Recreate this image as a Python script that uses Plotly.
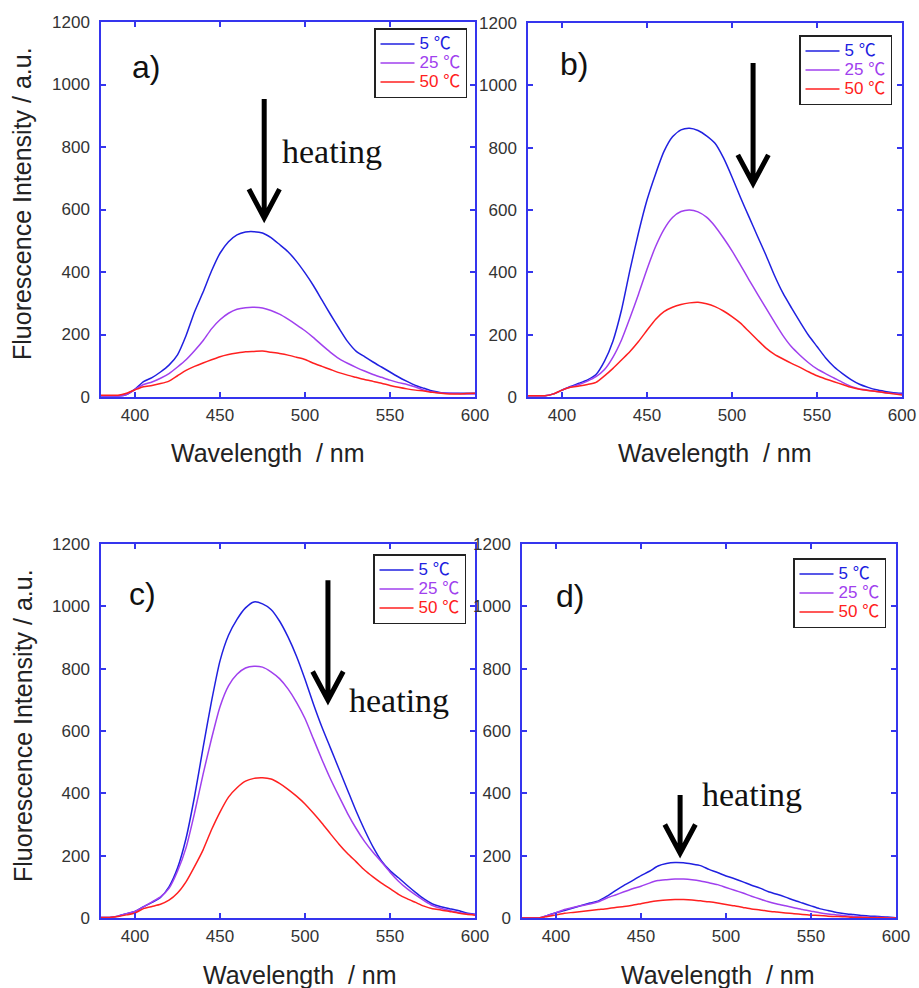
import plotly.graph_objects as go

wavelength = [380, 385, 390, 395, 400, 405, 410, 415, 420, 425, 430, 435, 440, 445, 450,
              455, 460, 465, 470, 475, 480, 485, 490, 495, 500, 505, 510, 515, 520, 525,
              530, 535, 540, 545, 550, 555, 560, 565, 570, 575, 580, 585, 590, 595, 600]

# Panel a)
a_5C = [3, 3, 3, 8, 25, 49, 62, 80, 102, 135, 196, 272, 335, 403, 460, 497, 519, 528, 529, 525,
        510, 488, 465, 434, 397, 356, 310, 264, 220, 178, 147, 129, 112, 96, 80, 64, 50, 37, 28,
        19, 14, 12, 12, 12, 12]
a_25C = [3, 3, 3, 8, 24, 40, 48, 60, 75, 96, 119, 148, 180, 218, 247, 268, 281, 286, 287, 285,
         277, 265, 249, 231, 212, 190, 166, 143, 123, 108, 95, 83, 72, 63, 54, 46, 40, 32, 22,
         16, 13, 12, 11, 10, 10]
a_50C = [6, 6, 6, 12, 23, 33, 37, 43, 51, 68, 85, 98, 109, 119, 129, 136, 141, 145, 146, 147,
         143, 139, 134, 127, 120, 108, 98, 88, 78, 70, 63, 56, 50, 44, 37, 31, 26, 22, 19, 15,
         12, 10, 10, 11, 12]

# Panel b)
b_5C = [4, 4, 4, 10, 22, 34, 44, 55, 72, 115, 180, 279, 408, 527, 632, 715, 788, 835, 857, 862,
        855, 838, 814, 767, 706, 640, 578, 516, 455, 390, 333, 286, 241, 198, 162, 126, 97, 75,
        56, 41, 31, 23, 18, 14, 12]
b_25C = [4, 4, 4, 10, 22, 32, 40, 51, 65, 88, 128, 183, 254, 330, 410, 482, 538, 576, 595, 600,
         594, 577, 548, 510, 469, 423, 376, 330, 285, 240, 197, 161, 134, 110, 90, 75, 61, 47,
         34, 26, 22, 18, 14, 11, 9]
b_50C = [4, 4, 4, 10, 22, 31, 35, 40, 47, 68, 92, 119, 146, 178, 214, 249, 274, 288, 297, 302,
         304, 299, 290, 276, 258, 237, 210, 183, 157, 137, 122, 108, 95, 81, 68, 58, 49, 40, 31,
         25, 21, 18, 14, 10, 6]

# Panel c)
c_5C = [2, 2, 6, 14, 21, 36, 50, 66, 100, 160, 255, 389, 545, 695, 825, 907, 958, 995, 1014,
        1008, 990, 953, 902, 840, 766, 686, 612, 545, 478, 411, 344, 283, 228, 183, 152, 129,
        105, 82, 61, 45, 36, 30, 24, 16, 12]
c_25C = [2, 2, 6, 14, 21, 36, 52, 68, 95, 150, 225, 336, 460, 575, 678, 745, 782, 802, 808, 805,
         790, 768, 735, 692, 640, 574, 508, 446, 390, 336, 288, 246, 211, 180, 147, 118, 94, 74,
         56, 40, 31, 24, 18, 14, 11]
c_50C = [2, 2, 5, 10, 16, 30, 37, 44, 57, 80, 116, 165, 218, 283, 340, 388, 418, 439, 448, 450,
         446, 432, 413, 391, 366, 336, 304, 270, 237, 207, 181, 154, 132, 112, 94, 76, 62, 50,
         38, 30, 26, 21, 16, 12, 9]

# Panel d)
d_5C = [0, 0, 0, 8, 17, 24, 32, 40, 48, 55, 70, 88, 105, 120, 136, 150, 167, 175, 178, 177, 173,
        168, 156, 146, 135, 126, 116, 105, 96, 84, 76, 67, 57, 48, 39, 30, 24, 18, 14, 11, 8, 6,
        5, 3, 1]
d_25C = [0, 0, 0, 8, 17, 27, 34, 40, 45, 52, 64, 74, 84, 94, 102, 112, 120, 123, 125, 125, 123,
         119, 113, 107, 98, 89, 80, 70, 61, 52, 45, 39, 33, 27, 22, 17, 13, 10, 7, 5, 3, 2, 2,
         1, 0]
d_50C = [0, 0, 0, 5, 10, 15, 18, 21, 24, 27, 30, 34, 37, 41, 46, 51, 55, 58, 59, 59, 58, 55, 52,
         48, 43, 39, 34, 29, 26, 22, 19, 16, 14, 11, 9, 8, 6, 5, 4, 2, 2, 1, 1, 0, 0]

panel_labels = ["a)", "b)", "c)", "d)"]
series_names = ["5 ℃", "25 ℃", "50 ℃"]
x_ticks = [400, 450, 500, 550, 600]
y_ticks = [0, 200, 400, 600, 800, 1000, 1200]

panels = [
    [a_5C, a_25C, a_50C],
    [b_5C, b_25C, b_50C],
    [c_5C, c_25C, c_50C],
    [d_5C, d_25C, d_50C],
]

colors = ["#2020e0", "#a040ee", "#ff2020"]
axis_blue = "#3535ee"
W, H = 919, 988

# plot area boxes in pixels (left, right, top, bottom)
boxes = [(101, 475, 22, 397), (528, 902, 23, 397), (101, 475, 544, 918), (522, 896, 544, 918)]

fig = go.Figure()
legend_ids = ["legend", "legend2", "legend3", "legend4"]
for p, series in enumerate(panels):
    ax = "" if p == 0 else str(p + 1)
    for s, vals in enumerate(series):
        fig.add_trace(go.Scatter(
            x=wavelength, y=vals, mode="lines",
            line=dict(color=colors[s], width=1.5, shape="spline", smoothing=0.6),
            name=f"<span style='color:{colors[s]};font-size:17px'>{series_names[s]}</span>",
            xaxis="x" + ax, yaxis="y" + ax,
            legend=legend_ids[p],
        ))

layout = dict(template="none", width=W, height=H, margin=dict(l=0, r=0, t=0, b=0, pad=0),
              paper_bgcolor="white", plot_bgcolor="white", showlegend=True, autosize=False)

tick_font = dict(family="Liberation Sans, Arial", size=17, color="#333333")
for p, (l, r, t, b) in enumerate(boxes):
    ax = "" if p == 0 else str(p + 1)
    layout["xaxis" + ax] = dict(
        domain=[l / W, r / W], range=[380, 600], anchor="y" + ax, automargin=False,
        tickvals=x_ticks, ticks="inside", ticklen=5, tickwidth=1.5, tickcolor=axis_blue,
        showline=True, linecolor=axis_blue, linewidth=1.5, mirror="ticks",
        showgrid=False, zeroline=False, tickfont=tick_font, ticklabelstandoff=2)
    layout["yaxis" + ax] = dict(
        domain=[1 - b / H, 1 - t / H], range=[0, 1200], anchor="x" + ax, automargin=False,
        tickvals=y_ticks, ticks="inside", ticklen=5, tickwidth=1.5, tickcolor=axis_blue,
        showline=True, linecolor=axis_blue, linewidth=1.5, mirror="ticks",
        showgrid=False, zeroline=False, tickfont=tick_font, ticklabelstandoff=6)

# legends (top right of each panel)
legend_boxes = [(467, 28), (892, 35), (466, 554), (886, 558)]
for p, (rx, ty) in enumerate(legend_boxes):
    layout[legend_ids[p]] = dict(
        x=rx / W, y=1 - ty / H, xanchor="right", yanchor="top",
        xref="paper", yref="paper",
        bordercolor="#222222", borderwidth=1.5, bgcolor="white",
        font=dict(family="Liberation Sans, Noto Sans CJK JP", size=12),
        tracegroupgap=0, itemwidth=34)

fig.update_layout(**layout)

annotations = []
# panel labels
label_pos = [(397, 1056), (397.6, 1069), (395, 1039), (399, 1033)]
for p, (lx, ly) in enumerate(label_pos):
    ax = "" if p == 0 else str(p + 1)
    annotations.append(dict(text=panel_labels[p], x=lx, y=ly, xref="x" + ax, yref="y" + ax,
                            xanchor="left", yanchor="middle", showarrow=False,
                            font=dict(family="Liberation Sans, Arial", size=32, color="#111111")))

# "heating" labels
heat_pos = {0: (485.3, 787), 2: (524.7, 699), 3: (484.7, 395)}
for p, (hx, hy) in heat_pos.items():
    ax = "" if p == 0 else str(p + 1)
    annotations.append(dict(text="heating", x=hx, y=hy, xref="x" + ax, yref="y" + ax,
                            xanchor="left", yanchor="middle", showarrow=False,
                            font=dict(family="Liberation Serif, Times New Roman", size=34,
                                      color="#111111")))

# axis titles
xt_pos = [(268, 453), (714.5, 453), (300, 975), (718, 975)]
for (cx, cy) in xt_pos:
    annotations.append(dict(text="Wavelength  / nm", x=cx / W, y=1 - cy / H, xref="paper",
                            yref="paper", xanchor="center", yanchor="middle", showarrow=False,
                            font=dict(family="Liberation Sans, Arial", size=25, color="#222222")))
yt_pos = [(22, 204), (23, 726)]
for (cx, cy) in yt_pos:
    annotations.append(dict(text="Fluorescence Intensity / a.u.", x=cx / W, y=1 - cy / H,
                            xref="paper", yref="paper", xanchor="center", yanchor="middle",
                            textangle=-90, showarrow=False,
                            font=dict(family="Liberation Sans, Arial", size=25, color="#222222")))
fig.update_layout(annotations=annotations)

# arrows (shaft + open V head)
arrow_pos = {0: (476, 954, 573), 1: (512.4, 1072, 685), 2: (513.5, 1084, 699), 3: (473, 395, 208)}
for p, (axx, top, tip) in arrow_pos.items():
    ax = "" if p == 0 else str(p + 1)
    path = (f"M {axx},{top} L {axx},{tip + 5} "
            f"M {axx - 9},{tip + 92} L {axx},{tip} L {axx + 9},{tip + 92}")
    fig.add_shape(type="path", path=path, xref="x" + ax, yref="y" + ax,
                  line=dict(color="black", width=5))

fig.write_html("out.html")
